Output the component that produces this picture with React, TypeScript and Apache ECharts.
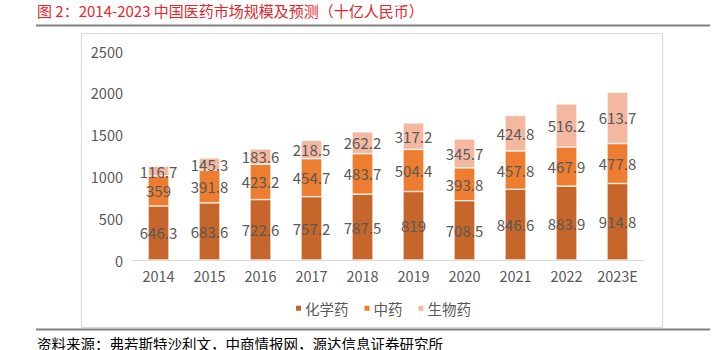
import React, { useEffect, useRef } from "react";
import * as echarts from "echarts";

const categories = ["2014", "2015", "2016", "2017", "2018", "2019", "2020", "2021", "2022", "2023E"];
const chemical = [646.3, 683.6, 722.6, 757.2, 787.5, 819, 708.5, 846.6, 883.9, 914.8];
const tcm = [359, 391.8, 423.2, 454.7, 483.7, 504.4, 393.8, 457.8, 467.9, 477.8];
const bio = [116.7, 145.3, 183.6, 218.5, 262.2, 317.2, 345.7, 424.8, 516.2, 613.7];
const seriesNames = ["化学药", "中药", "生物药"];
const yTicks = { min: 0, max: 2500, interval: 500 };
const titleText = "图 2：2014-2023 中国医药市场规模及预测（十亿人民币）";
const sourceText = "资料来源：弗若斯特沙利文，中商情报网，源达信息证券研究所";

const FONT = "'Noto Sans CJK SC', 'Noto Sans', sans-serif";
const colors = ["#C6662A", "#ED7D31", "#F4B8A0"];

export default function App() {
  const ref = useRef<HTMLDivElement>(null);
  useEffect(() => {
    if (!ref.current) return;
    const chart = echarts.init(ref.current, undefined, { renderer: "svg" });
    const mk = (name: string, data: number[], color: string) => ({
      name,
      type: "bar",
      stack: "total",
      data,
      barWidth: 21,
      itemStyle: { color, borderColor: "#ffffff", borderWidth: 0.6 },
      label: {
        show: true,
        position: "inside",
        color: "#595959",
        fontSize: 15,
        fontFamily: FONT,
      },
    });
    chart.setOption({
      animation: false,
      backgroundColor: "#ffffff",
      textStyle: { fontFamily: FONT },
      graphic: [
        {
          type: "text",
          left: 37,
          top: 3,
          style: { text: titleText, fill: "#E8262C", font: `15px ${FONT}` },
        },
        {
          type: "line",
          shape: { x1: 36, y1: 25.5, x2: 710, y2: 25.5 },
          style: { stroke: "#7F7F7F", lineWidth: 2 },
        },
        {
          type: "rect",
          shape: { x: 81.5, y: 33.5, width: 581, height: 294 },
          style: { fill: "none", stroke: "#D9D9D9", lineWidth: 1 },
          z: -1,
        },
        {
          type: "line",
          shape: { x1: 36, y1: 329.5, x2: 710, y2: 329.5 },
          style: { stroke: "#7F7F7F", lineWidth: 2 },
        },
        {
          type: "text",
          left: 37,
          top: 336,
          style: { text: sourceText, fill: "#000000", font: `14.5px ${FONT}` },
        },
      ],
      legend: {
        data: seriesNames,
        top: 296,
        left: 289,
        icon: "rect",
        itemWidth: 7,
        itemHeight: 7,
        itemGap: 14,
        textStyle: { color: "#595959", fontSize: 14.5, fontFamily: FONT, padding: [0, 0, 0, -2] },
      },
      grid: { left: 133, right: 77, top: 51, bottom: 90, containLabel: false },
      xAxis: {
        type: "category",
        data: categories,
        axisLine: { lineStyle: { color: "#D9D9D9", width: 1 } },
        axisTick: { show: false },
        axisLabel: { color: "#595959", fontSize: 14.5, fontFamily: FONT, margin: 8, interval: 0 },
      },
      yAxis: {
        type: "value",
        min: yTicks.min,
        max: yTicks.max,
        interval: yTicks.interval,
        axisLine: { show: false },
        axisTick: { show: false },
        splitLine: { show: false },
        axisLabel: {
          color: "#595959",
          fontSize: 14.5,
          fontFamily: FONT,
          margin: 10,
          formatter: (v: number) => String(v),
        },
      },
      series: [
        mk(seriesNames[0], chemical, colors[0]),
        mk(seriesNames[1], tcm, colors[1]),
        mk(seriesNames[2], bio, colors[2]),
      ],
    });
    return () => chart.dispose();
  }, []);
  return <div ref={ref} style={{ width: 720, height: 350, position: "absolute", left: 0, top: 0 }} />;
}
